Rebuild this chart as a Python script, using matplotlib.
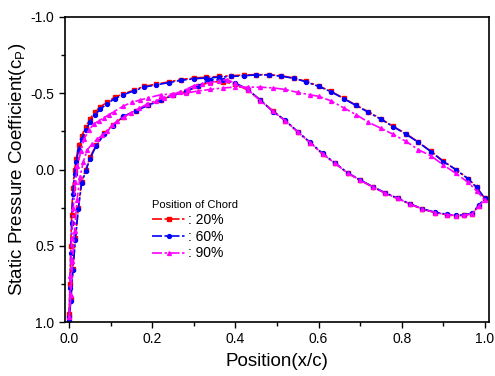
import matplotlib
matplotlib.use("Agg")
import matplotlib.pyplot as plt
from matplotlib.ticker import MultipleLocator

plt.rcParams['font.family'] = ['Liberation Sans', 'DejaVu Sans']

# ---- data ----
# 20% chord: suction side LE->TE, then pressure side TE->LE
x20 = [0.0, 0.002, 0.004, 0.006, 0.009, 0.013, 0.017, 0.023, 0.03, 0.04, 0.05, 0.062, 0.075,
       0.09, 0.11, 0.13, 0.155, 0.18, 0.21, 0.24, 0.27, 0.3, 0.33, 0.36, 0.39, 0.42, 0.45,
       0.48, 0.51, 0.54, 0.57, 0.6, 0.63, 0.66, 0.69, 0.72, 0.75, 0.78, 0.81, 0.84, 0.87,
       0.9, 0.93, 0.96, 0.98, 1.0,
       0.985, 0.97, 0.95, 0.93, 0.91, 0.88, 0.85, 0.82, 0.79, 0.76, 0.73, 0.7, 0.67, 0.64,
       0.61, 0.58, 0.55, 0.52, 0.49, 0.46, 0.43, 0.4, 0.37, 0.34, 0.31, 0.28, 0.25, 0.22,
       0.19, 0.16, 0.13, 0.105, 0.085, 0.065, 0.05, 0.04, 0.03, 0.022, 0.015, 0.009, 0.004, 0.0]
cp20 = [0.95, 0.75, 0.5, 0.3, 0.12, 0.0, -0.07, -0.16, -0.22, -0.28, -0.33, -0.38, -0.41,
        -0.44, -0.475, -0.495, -0.52, -0.545, -0.56, -0.575, -0.59, -0.6, -0.605, -0.61, -0.615,
        -0.62, -0.622, -0.622, -0.615, -0.6, -0.578, -0.548, -0.512, -0.468, -0.422, -0.378,
        -0.332, -0.282, -0.235, -0.18, -0.12, -0.055, 0.0, 0.06, 0.115, 0.19,
        0.24, 0.29, 0.3, 0.305, 0.298, 0.282, 0.26, 0.228, 0.19, 0.155, 0.115, 0.07, 0.025,
        -0.04, -0.1, -0.175, -0.245, -0.32, -0.385, -0.455, -0.52, -0.56, -0.575, -0.575,
        -0.545, -0.51, -0.488, -0.455, -0.425, -0.385, -0.345, -0.29, -0.24, -0.16, -0.08,
        0.0, 0.08, 0.25, 0.45, 0.65, 0.85, 0.97]

# 60% chord
x60 = [0.0, 0.002, 0.004, 0.006, 0.009, 0.013, 0.017, 0.023, 0.03, 0.04, 0.05, 0.062, 0.075,
       0.09, 0.11, 0.13, 0.155, 0.18, 0.21, 0.24, 0.27, 0.3, 0.33, 0.36, 0.39, 0.42, 0.45,
       0.48, 0.51, 0.54, 0.57, 0.6, 0.63, 0.66, 0.69, 0.72, 0.75, 0.78, 0.81, 0.84, 0.87,
       0.9, 0.93, 0.96, 0.98, 1.0,
       0.985, 0.97, 0.95, 0.93, 0.91, 0.88, 0.85, 0.82, 0.79, 0.76, 0.73, 0.7, 0.67, 0.64,
       0.61, 0.58, 0.55, 0.52, 0.49, 0.46, 0.43, 0.4, 0.37, 0.34, 0.31, 0.28, 0.25, 0.22,
       0.19, 0.16, 0.13, 0.105, 0.085, 0.065, 0.05, 0.04, 0.03, 0.022, 0.015, 0.009, 0.004, 0.0]
cp60 = [0.97, 0.78, 0.55, 0.35, 0.16, 0.03, -0.05, -0.13, -0.2, -0.26, -0.31, -0.36, -0.395,
        -0.43, -0.465, -0.49, -0.515, -0.54, -0.555, -0.57, -0.585, -0.595, -0.6, -0.605,
        -0.61, -0.615, -0.62, -0.62, -0.612, -0.598, -0.575, -0.545, -0.51, -0.465, -0.42,
        -0.375, -0.33, -0.28, -0.232, -0.178, -0.118, -0.052, 0.0, 0.062, 0.118, 0.19,
        0.235, 0.285, 0.298, 0.3, 0.294, 0.28, 0.258, 0.225, 0.188, 0.152, 0.112, 0.068, 0.022,
        -0.042, -0.105, -0.178, -0.248, -0.322, -0.38, -0.455, -0.525, -0.568, -0.585, -0.59,
        -0.548, -0.512, -0.486, -0.455, -0.42, -0.385, -0.348, -0.285, -0.235, -0.155, -0.07,
        0.01, 0.09, 0.26, 0.46, 0.66, 0.86, 0.99]

# 90% chord
x90 = [0.0, 0.003, 0.006, 0.01, 0.015, 0.02, 0.028, 0.036, 0.048, 0.06, 0.072, 0.084, 0.096,
       0.108, 0.13, 0.15, 0.17, 0.19, 0.22, 0.25, 0.28, 0.31, 0.34, 0.37, 0.4, 0.43, 0.46,
       0.49, 0.52, 0.55, 0.58, 0.6, 0.63, 0.66, 0.69, 0.72, 0.75, 0.78, 0.81, 0.84, 0.87,
       0.9, 0.93, 0.96, 0.98, 1.0,
       0.985, 0.97, 0.95, 0.93, 0.91, 0.88, 0.85, 0.82, 0.79, 0.76, 0.73, 0.7, 0.67, 0.64,
       0.61, 0.58, 0.55, 0.52, 0.49, 0.46, 0.43, 0.4, 0.379, 0.36, 0.339, 0.32, 0.3, 0.285,
       0.267, 0.248, 0.228, 0.208, 0.188, 0.168, 0.148, 0.132, 0.116, 0.104, 0.092, 0.08,
       0.068, 0.056, 0.044, 0.034, 0.026, 0.019, 0.013, 0.008, 0.004, 0.0]
cp90 = [0.97, 0.7, 0.45, 0.25, 0.08, -0.02, -0.12, -0.2, -0.26, -0.3, -0.32, -0.34, -0.36,
        -0.38, -0.415, -0.44, -0.455, -0.47, -0.49, -0.495, -0.5, -0.515, -0.525, -0.535,
        -0.54, -0.54, -0.54, -0.535, -0.525, -0.505, -0.49, -0.48, -0.45, -0.405, -0.36,
        -0.31, -0.27, -0.23, -0.185, -0.13, -0.09, -0.03, 0.025, 0.085, 0.14, 0.2,
        0.24, 0.29, 0.3, 0.302, 0.296, 0.282, 0.26, 0.226, 0.19, 0.155, 0.114, 0.07, 0.024,
        -0.04, -0.102, -0.176, -0.246, -0.32, -0.382, -0.452, -0.522, -0.565, -0.59, -0.58,
        -0.57, -0.56, -0.55, -0.53, -0.51, -0.49, -0.47, -0.45, -0.43, -0.4, -0.37, -0.345,
        -0.32, -0.29, -0.25, -0.225, -0.2, -0.17, -0.13, -0.05, 0.05, 0.2, 0.4, 0.6, 0.82, 0.97]

labels = [': 20%', ': 60%', ': 90%']
colors = ['#ff0000', '#0000ff', '#ff00ff']
markers = ['s', 'o', '^']

fig = plt.figure(figsize=(4.95, 3.76), dpi=100)
ax = fig.add_axes([0.1313, 0.1436, 0.8566, 0.8112])

for xs, ys, lab, c, m in zip([x20, x60, x90], [cp20, cp60, cp90], labels, colors, markers):
    ax.plot(xs, ys, color=c, marker=m, markersize=2.8, linewidth=1.2,
            dashes=(6, 1.5, 1.5, 1.5), label=lab)

ax.set_xlim(-0.01, 1.01)
ax.set_ylim(1.0, -1.0)
ax.xaxis.set_major_locator(MultipleLocator(0.2))
ax.xaxis.set_minor_locator(MultipleLocator(0.1))
ax.yaxis.set_major_locator(MultipleLocator(0.5))
ax.yaxis.set_minor_locator(MultipleLocator(0.25))
ax.xaxis.set_major_formatter(plt.FuncFormatter(lambda v, p: f"{v:.1f}"))
ax.yaxis.set_major_formatter(plt.FuncFormatter(lambda v, p: f"{v:.1f}"))
ax.tick_params(which='both', direction='out', top=False, right=False, labelsize=10)
ax.tick_params(which='major', length=4, width=1)
ax.tick_params(which='minor', length=3, width=1)
for s in ax.spines.values():
    s.set_linewidth(1.2)

ax.set_xlabel('Position(x/c)', fontsize=13.5, labelpad=5)
ax.set_ylabel('Static Pressure Coefficient(c$_\\mathregular{P}$)', fontsize=13.5, labelpad=2)

leg = ax.legend(loc='upper left', bbox_to_anchor=(0.192, 0.418), frameon=False,
                title='Position of Chord', title_fontsize=8, fontsize=10,
                handlelength=2.4, handletextpad=0.2, labelspacing=0.2, numpoints=1,
                borderaxespad=0)
leg._legend_box.align = 'left'

fig.savefig('out.png', dpi=100)
